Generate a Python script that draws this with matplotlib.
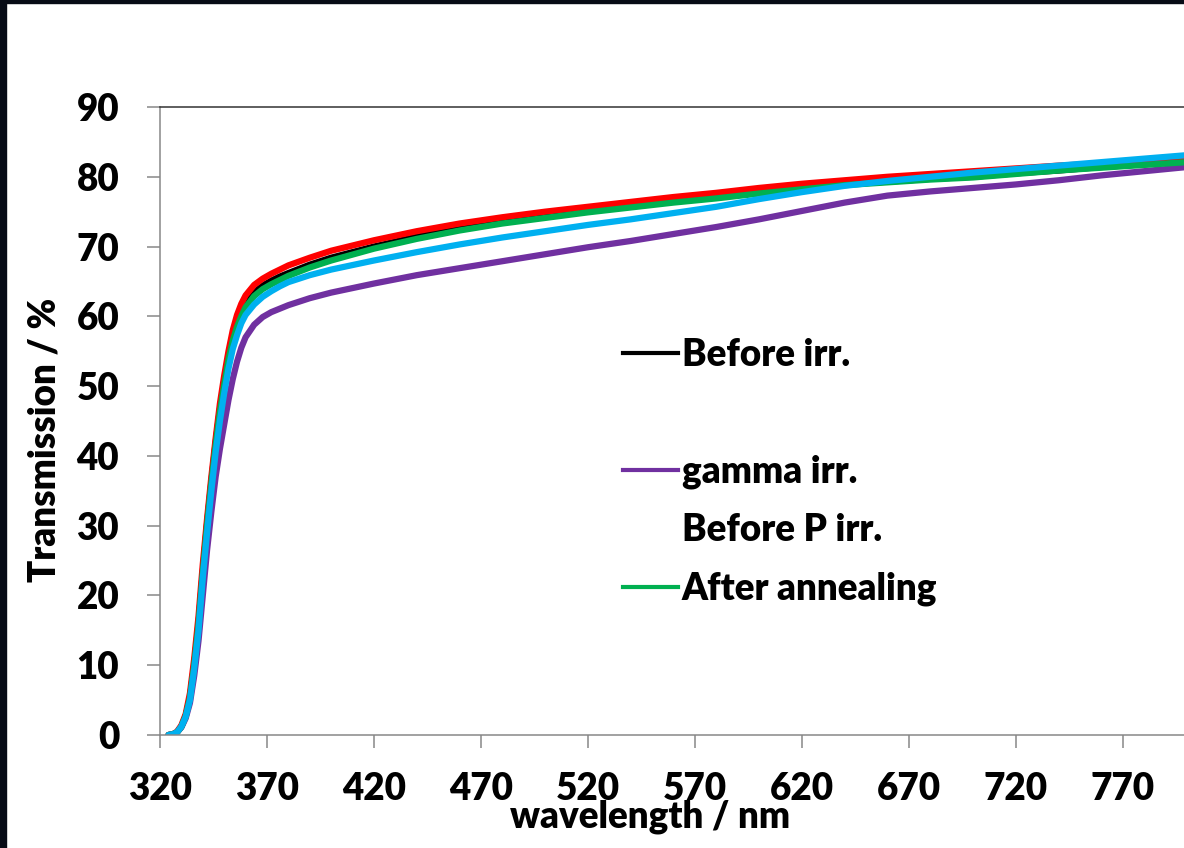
import numpy as np
import matplotlib.pyplot as plt
from matplotlib.lines import Line2D
from matplotlib.patches import Rectangle

plt.rcParams['font.family'] = ['Lato', 'DejaVu Sans']
plt.rcParams['font.weight'] = 'heavy'

# wavelength grid (nm)
wl = [324, 326, 328, 330, 332, 334, 336, 338, 340, 342, 344, 346, 348, 350,
      352, 354, 356, 358, 360, 364, 368, 372, 376, 380, 390, 400, 420, 440, 460,
      480, 500, 520, 540, 560, 580, 600, 620, 640, 660, 680, 700, 720, 740,
      760, 780, 800]

# transmission (%)
t_red = [0, 0.1, 0.5, 1.4, 3.0, 6.0, 11.0, 17.0, 24.5, 31.0, 37.0, 42.5, 47.5, 51.5,
         55.0, 58.0, 60.2, 61.8, 63.0, 64.5, 65.4, 66.1, 66.7, 67.3, 68.4, 69.4, 70.9, 72.2, 73.3,
         74.2, 75.0, 75.7, 76.4, 77.1, 77.7, 78.4, 79.0, 79.5, 80.0, 80.4, 80.8, 81.2, 81.6,
         81.9, 82.2, 82.4]
t_green = [0, 0.1, 0.4, 1.2, 2.7, 5.3, 10.0, 15.8, 23.2, 30.0, 36.0, 41.5, 46.3, 50.2,
           53.8, 56.5, 58.5, 60.0, 61.3, 62.9, 63.9, 64.6, 65.2, 65.8, 67.0, 68.0, 69.7, 71.1, 72.3,
           73.3, 74.1, 74.9, 75.6, 76.3, 76.9, 77.6, 78.2, 78.8, 79.2, 79.6, 79.9, 80.4, 80.9,
           81.3, 81.7, 82.1]
t_black = [0, 0.1, 0.4, 1.2, 2.7, 5.4, 10.1, 16.0, 23.4, 30.3, 36.3, 41.9, 46.7, 50.7,
           54.3, 57.0, 59.0, 60.5, 61.8, 63.4, 64.4, 65.1, 65.7, 66.2, 67.4, 68.4, 70.0, 71.4, 72.6,
           73.5, 74.3, 75.1, 75.8, 76.5, 77.1, 77.7, 78.3, 78.9, 79.3, 79.7, 80.0, 80.5, 80.9,
           81.4, 81.8, 82.2]
t_purple = [0, 0.1, 0.4, 1.1, 2.4, 4.6, 8.5, 13.5, 20.0, 26.5, 32.0, 37.0, 41.0, 44.5,
            48.0, 51.0, 53.5, 55.5, 57.0, 58.8, 59.9, 60.6, 61.1, 61.6, 62.6, 63.4, 64.7, 65.9, 66.9,
            67.9, 68.9, 69.9, 70.8, 71.8, 72.8, 73.9, 75.1, 76.3, 77.3, 77.9, 78.4, 78.9, 79.5,
            80.2, 80.8, 81.4]
t_blue = [0, 0.1, 0.4, 1.2, 2.6, 5.0, 9.5, 15.0, 22.5, 29.0, 35.0, 40.5, 45.0, 49.0,
          52.5, 55.3, 57.3, 59.0, 60.2, 61.7, 62.8, 63.6, 64.3, 64.9, 65.9, 66.7, 68.0, 69.2, 70.3,
          71.3, 72.2, 73.1, 73.9, 74.8, 75.7, 76.8, 77.8, 78.7, 79.4, 80.0, 80.6, 81.1, 81.6,
          82.1, 82.6, 83.1]

xticks = [320, 370, 420, 470, 520, 570, 620, 670, 720, 770]
yticks = [0, 10, 20, 30, 40, 50, 60, 70, 80, 90]

fig = plt.figure(figsize=(11.84, 8.48), dpi=100)
ax = fig.add_axes([160/1184, 1-735/848, 1027/1184, 628/848])

lw = 4.5
ax.plot(wl, t_black, color='black', lw=lw, solid_capstyle='round')
ax.plot(wl, t_red, color='#ff0000', lw=lw, solid_capstyle='round')
ax.plot(wl, t_purple, color='#7030a0', lw=lw, solid_capstyle='round')
ax.plot(wl, t_green, color='#00b050', lw=lw, solid_capstyle='round')
ax.plot(wl, t_blue, color='#00b0f0', lw=lw, solid_capstyle='round')

ax.set_xlim(320, 800)
ax.set_ylim(0, 90)
ax.set_xticks(xticks)
ax.set_yticks(yticks)
ax.tick_params(axis='both', direction='out', length=9.4, width=1.1, color='#878787',
               labelsize=26.5)
ax.tick_params(axis='y', pad=20)
ax.tick_params(axis='x', pad=17)
for s in ['left', 'bottom']:
    ax.spines[s].set_color('#878787')
    ax.spines[s].set_linewidth(1.1)
ax.spines['top'].set_color('#333333')
ax.spines['top'].set_linewidth(1.1)
ax.spines['right'].set_visible(False)

fig.text(650/1184, 1-828/848, 'wavelength / nm', fontsize=26.5,
         ha='center', va='baseline')
fig.text(45/1184, 1-440/848, 'Transmission / %', fontsize=26.5,
         rotation=90, ha='center', va='center')

handles = [Line2D([], [], color='black', lw=3),
           Line2D([], [], color='none'),
           Line2D([], [], color='#7030a0', lw=3),
           Line2D([], [], color='none'),
           Line2D([], [], color='#00b050', lw=3)]
labels = ['Before irr.', '', 'gamma irr.', 'Before P irr.', 'After annealing']
ax.legend(handles, labels, loc='upper left', bbox_to_anchor=(623/1184, 1-338/848),
          bbox_transform=fig.transFigure, frameon=False, fontsize=26.5,
          handlelength=1.5, handletextpad=0.1, labelspacing=0.66, borderpad=0,
          borderaxespad=0)

# dark frame around the slide
fig.patches.append(Rectangle((0, 0), 6/1184, 1, transform=fig.transFigure,
                             color='#070b16', zorder=10))
fig.patches.append(Rectangle((0, 1-3/848), 1, 3/848, transform=fig.transFigure,
                             color='#070b16', zorder=10))

fig.savefig('out.png', dpi=100)
